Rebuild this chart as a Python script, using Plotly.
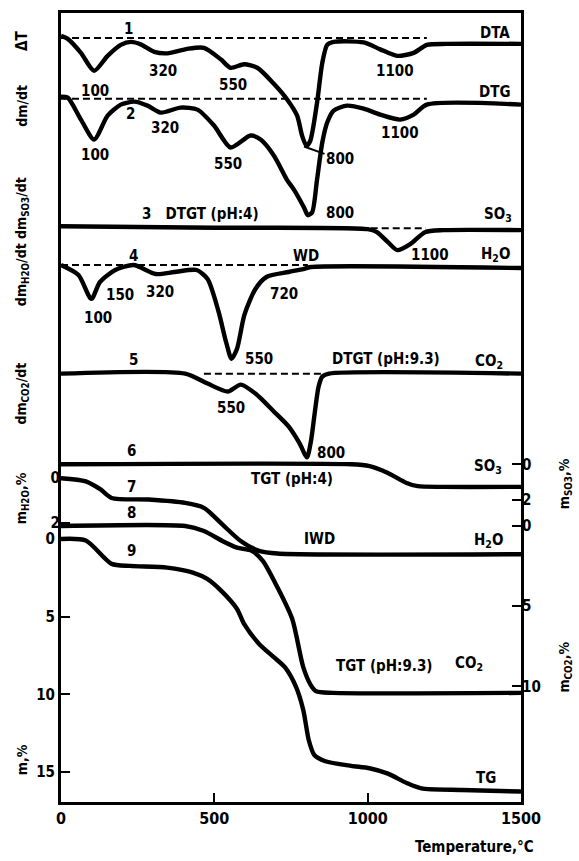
import plotly.graph_objects as go

# ---------------- data ----------------
# 1: DTA (arbitrary units, baseline = 0)
T_dta = [0, 22, 65, 108, 152, 195, 228, 260, 304, 347, 412, 466, 521, 553, 597, 640, 694, 738, 770, 786, 800, 812, 835, 852, 868, 889, 987, 1041, 1096, 1150, 1193, 1258, 1500]
v_dta = [0.2, -0.1, -1.5, -3.3, -1.8, -0.7, -0.4, -0.65, -1.4, -1.55, -1.1, -1.0, -2.15, -3.0, -2.65, -3.0, -4.6, -6.2, -7.8, -9.8, -10.8, -10.4, -6.5, -2.5, -0.7, -0.4, -0.45, -1.15, -1.8, -1.5, -0.7, -0.6, -0.6]
# 2: DTG
T_dtg = [0, 22, 65, 108, 152, 195, 239, 282, 325, 390, 445, 499, 553, 618, 651, 694, 738, 759, 792, 805, 819, 835, 852, 868, 889, 933, 987, 1041, 1106, 1150, 1193, 1500]
v_dtg = [0.2, 0.1, -2.1, -4.1, -1.7, -0.6, -0.3, -0.7, -1.4, -0.9, -1.1, -2.7, -4.9, -3.7, -4.1, -5.7, -8.2, -9.1, -10.9, -11.7, -11.4, -8.1, -4.4, -2.4, -1.2, -0.7, -1.0, -1.6, -2.1, -1.6, -0.6, -0.6]
# 3: DTGT (pH 4), SO3
T_so3d = [0, 500, 1000, 1030, 1066, 1097, 1139, 1187, 1247, 1500]
v_so3d = [0.2, 0.05, -0.1, -0.4, -1.4, -2.2, -1.6, -0.4, -0.2, -0.2]
# 4: DTGT (pH 4), H2O
T_h2od = [0, 57, 99, 127, 177, 237, 309, 370, 442, 478, 514, 538, 556, 574, 598, 634, 670, 742, 790, 814, 1500]
v_h2od = [0, -1.0, -3.4, -1.7, -0.5, 0, -0.9, -0.7, -0.5, -1.4, -4.7, -7.7, -9.4, -8.4, -5.0, -2.4, -1.2, -0.7, -0.4, -0.2, -0.3]
# 5: DTGT (pH 9.3), CO2
T_co2d = [0, 405, 478, 544, 586, 634, 694, 742, 778, 802, 815, 828, 840, 852, 874, 1500]
v_co2d = [0, 0, -1.0, -1.8, -1.1, -2.0, -3.8, -5.3, -7.0, -8.4, -6.8, -3.8, -1.3, -0.3, 0, 0]
# 6: TGT (pH 4) SO3, m_SO3 %
T_so3 = [0, 946, 1006, 1066, 1127, 1163, 1247, 1500]
m_so3 = [0, 0, 0.1, 0.48, 1.04, 1.22, 1.26, 1.26]
# 7: TGT (pH 4) H2O, m_H2O %
T_h2o = [0, 81, 129, 165, 285, 405, 466, 526, 586, 646, 706, 1500]
m_h2o = [0, 0.14, 0.5, 0.88, 0.95, 1.1, 1.32, 2.06, 2.8, 3.24, 3.36, 3.39]
# 8: TGT (pH 9.3) CO2, m_CO2 %
T_co2 = [0, 405, 466, 526, 574, 622, 658, 706, 754, 790, 814, 832, 886, 1500]
m_co2 = [0, 0, 0.31, 0.93, 1.35, 1.55, 2.17, 3.83, 5.8, 8.8, 9.9, 10.3, 10.4, 10.4]
# 9: TG, m %
T_tg = [0, 81, 165, 225, 346, 430, 478, 526, 574, 598, 646, 694, 730, 766, 790, 808, 826, 862, 946, 1006, 1066, 1127, 1175, 1307, 1500]
m_tg = [0, 0.1, 1.6, 1.73, 1.84, 2.16, 2.58, 3.4, 4.5, 5.5, 6.75, 7.6, 8.25, 9.5, 11.0, 12.95, 13.9, 14.3, 14.6, 14.75, 15.1, 15.7, 16.05, 16.15, 16.25]

# dashed baselines (temperature spans)
base_dta = [0, 1193]
base_dtg = [0, 1193]
base_so3 = [1010, 1190]
base_h2o = [0, 805]
base_co2 = [466, 850]

x_ticks = [0, 500, 1000, 1500]
tg_ticks = [0, 5, 10, 15]
h2o_ticks = [0, 2]
so3_ticks = [0, 2]
co2_ticks = [0, 5, 10]

# ---------------- layout geometry ----------------
W, H = 579, 861
L, R, TOP, BOT = 61, 521, 10, 802


def yrange(v0, p0, v1, p1):
    s = (v1 - v0) / (p1 - p0)
    return [v0 + (BOT - p0) * s, v0 + (TOP - p0) * s]


def drange(base_px):
    return yrange(0, base_px, -1, base_px + 10)


FONT = "DejaVu Sans Condensed, DejaVu Sans, sans-serif"
BLK = "black"

fig = go.Figure()


def curve(x, y, ax, width=4.4, dash=None, shape="spline"):
    fig.add_trace(go.Scatter(
        x=x, y=y, yaxis=ax, mode="lines", hoverinfo="skip", showlegend=False,
        line=dict(color=BLK, width=width, dash=dash, shape=shape, smoothing=0.7 if shape == "spline" else None)))


def base(span, ax):
    curve(span, [0, 0], ax, width=2, dash="7px,4px", shape="linear")


base(base_dta, "y5")
base(base_dtg, "y6")
base(base_so3, "y7")
base(base_h2o, "y8")
base(base_co2, "y9")
curve(T_dta, v_dta, "y5")
curve(T_dtg, v_dtg, "y6")
curve(T_so3d, v_so3d, "y7")
curve(T_h2od, v_h2od, "y8")
curve(T_co2d, v_co2d, "y9")
curve(T_so3, m_so3, "y3")
curve(T_h2o, m_h2o, "y2")
curve(T_co2, m_co2, "y4")
curve(T_tg, m_tg, "y")

tickfont = dict(family=FONT, size=15, color=BLK, weight="bold")

fig.update_layout(
    width=W, height=H, margin=dict(l=L, r=W - R, t=TOP, b=H - BOT),
    plot_bgcolor="white", paper_bgcolor="white", showlegend=False,
    xaxis=dict(range=[0, 1500], tickvals=x_ticks, ticks="inside", ticklen=9, tickwidth=2,
               tickcolor=BLK, showline=True, linecolor=BLK, linewidth=3, mirror=True,
               showgrid=False, zeroline=False, tickfont=dict(family=FONT, size=16, color=BLK, weight="bold")),
    yaxis=dict(range=yrange(0, 538, 15, 772), tickvals=tg_ticks, ticks="inside", ticklen=9,
               tickwidth=2, tickcolor=BLK, showline=True, linecolor=BLK, linewidth=3,
               mirror=True, showgrid=False, zeroline=False, tickfont=tickfont),
    yaxis2=dict(overlaying="y", side="left", anchor="x", range=yrange(0, 477, 2, 522),
                tickvals=h2o_ticks, ticks="inside", ticklen=9, tickwidth=2, tickcolor=BLK,
                showline=False, showgrid=False, zeroline=False, tickfont=tickfont),
    yaxis3=dict(overlaying="y", side="right", anchor="x", range=yrange(0, 463, 2, 499),
                tickvals=so3_ticks, ticks="inside", ticklen=9, tickwidth=2, tickcolor=BLK,
                showline=False, showgrid=False, zeroline=False, tickfont=tickfont),
    yaxis4=dict(overlaying="y", side="right", anchor="x", range=yrange(0, 525, 10, 686),
                tickvals=co2_ticks, ticks="inside", ticklen=9, tickwidth=2, tickcolor=BLK,
                showline=False, showgrid=False, zeroline=False, tickfont=tickfont),
)
for i, bpx in zip(range(5, 10), [35, 96, 226, 263, 372]):
    fig.layout["yaxis%d" % i] = dict(overlaying="y", anchor="x", range=drange(bpx), visible=False)


def px2paper(px, py):
    return (px - L) / (R - L), (BOT - py) / (BOT - TOP)


def label(text, px, py, size=15, angle=0, xanchor="center"):
    x, y = px2paper(px, py)
    fig.add_annotation(x=x, y=y, xref="paper", yref="paper", text=text, showarrow=False,
                       textangle=angle, xanchor=xanchor, yanchor="middle",
                       font=dict(family=FONT, size=size, color=BLK, weight="bold"))


labels = [
    ("1", 128, 26), ("100", 95, 88), ("320", 163, 68), ("550", 233, 82), ("1100", 395, 68),
    ("DTA", 495, 30), ("DTG", 495, 89),
    ("2", 130, 111), ("320", 165, 125), ("100", 95, 153), ("550", 228, 162),
    ("1100", 400, 130), ("800", 340, 211),
    ("3   DTGT (pH:4)", 200, 212), ("SO<sub>3</sub>", 498, 212),
    ("1100", 430, 253), ("H<sub>2</sub>O", 495, 252),
    ("4", 133, 254), ("WD", 306, 254), ("150", 120, 293), ("100", 98, 316), ("320", 160, 290),
    ("720", 284, 292), ("550", 259, 357),
    ("5", 133, 358), ("DTGT (pH:9.3)", 386, 357), ("CO<sub>2</sub>", 489, 360),
    ("550", 231, 407), ("800", 331, 452),
    ("6", 131, 450), ("SO<sub>3</sub>", 488, 465), ("TGT (pH:4)", 292, 478),
    ("7", 131, 486), ("8", 131, 512), ("IWD", 319, 538), ("H<sub>2</sub>O", 488, 540),
    ("9", 131, 550), ("TGT (pH:9.3)", 384, 665), ("CO<sub>2</sub>", 469, 663), ("TG", 486, 778),
]
for t, px, py in labels:
    label(t, px, py)

# leader for the DTA 800 label
tx, ty = px2paper(304, 144)
fig.add_annotation(x=tx, y=ty, xref="paper", yref="paper", text="800", showarrow=True,
                   arrowhead=0, arrowwidth=2, arrowcolor=BLK, ax=36, ay=13,
                   font=dict(family=FONT, size=15, color=BLK, weight="bold"))

# axis titles
label("Temperature,°C", 474, 847, size=15)
label("ΔT", 22, 38, angle=-90)
label("dm/dt", 22, 103, angle=-90, size=14)
label("dm<sub>H2O</sub>/dt dm<sub>SO3</sub>/dt", 22, 240, angle=-90, size=14)
label("dm<sub>CO2</sub>/dt", 22, 392, angle=-90, size=14)
label("m<sub>H2O</sub>,%", 22, 497, angle=-90, size=14)
label("m,%", 22, 760, angle=-90, size=14)
label("m<sub>SO3</sub>,%", 565, 483, angle=-90, size=14)
label("m<sub>CO2</sub>,%", 565, 667, angle=-90, size=14)

fig.write_html("out.html")
